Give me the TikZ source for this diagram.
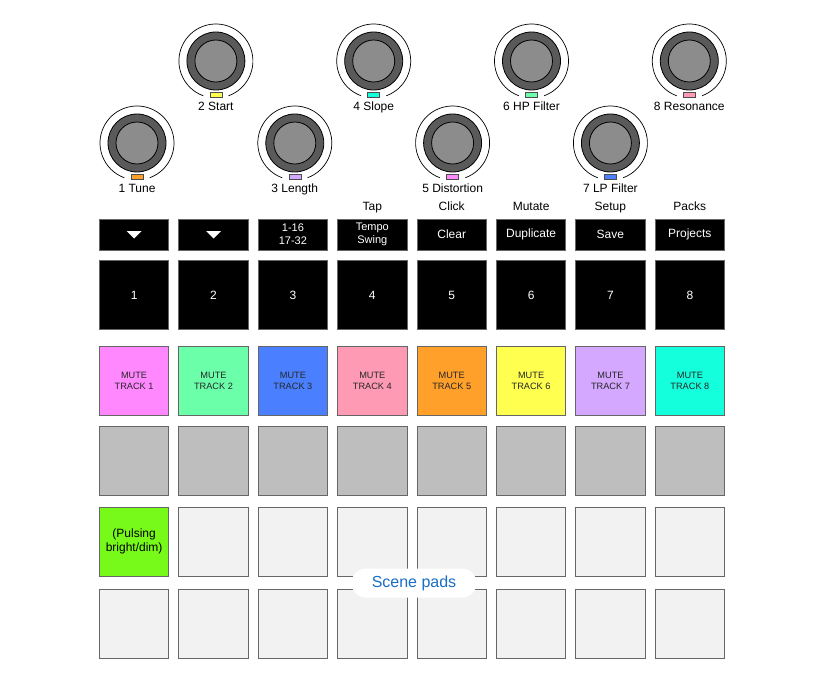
\documentclass[tikz,border=0pt]{standalone}
\usepackage{fontspec}
\setmainfont{Liberation Sans}
\usetikzlibrary{positioning}
\definecolor{ringgray}{HTML}{5A5A5A}
\definecolor{capgray}{HTML}{8C8C8C}
\definecolor{padgray}{HTML}{BEBEBE}
\definecolor{padlight}{HTML}{F2F2F2}
\definecolor{track1}{HTML}{FF88FF}
\definecolor{track2}{HTML}{6BFFAA}
\definecolor{track3}{HTML}{4A80FF}
\definecolor{track4}{HTML}{FF9AB4}
\definecolor{track5}{HTML}{FFA02A}
\definecolor{track6}{HTML}{FFFF50}
\definecolor{track7}{HTML}{D4A8FF}
\definecolor{track8}{HTML}{14FFDC}
\definecolor{pulse}{HTML}{77FA1A}
\definecolor{sceneblue}{HTML}{1A6EC8}
\begin{document}
\begin{tikzpicture}[x=1pt, y=-1pt,
    every node/.style={inner sep=0pt, font=\fontsize{12}{14}\selectfont},
    knob/.style={circle, draw=black, line width=0.8pt, fill=ringgray, minimum size=58pt,
        path picture={\draw[fill=capgray] (path picture bounding box.center) circle[radius=21pt];}},
    led/.style={draw=black!70, line width=0.6pt, minimum width=12pt, minimum height=5pt},
    knoblabel/.style={text height=9pt, text depth=2.5pt},
    fnbtn/.style={fill=black, draw=black!60, line width=0.8pt, minimum width=69.5pt, minimum height=31pt, text=white, align=center},
    pad/.style={draw=black!60, line width=0.8pt, minimum size=69.5pt, align=center},
    mute/.style={pad, text=black!85, font=\fontsize{9.2}{11}\selectfont},
    scene/.style={fill=white, rounded corners=14.5pt, minimum width=125pt, minimum height=29pt, text=sceneblue, font=\fontsize{16}{18}\selectfont}]
    \fill[white] (0,0) rectangle (840,682);
    \useasboundingbox (0,0) rectangle (840,682);

    % knobs
    \foreach \i/\x/\y/\c/\t in {1/137/143/track5/1 Tune, 2/215.9/61/track6/2 Start, 3/294.8/143/track7/3 Length, 4/373.7/61/track8/4 Slope,
        5/452.6/143/track1/5 Distortion, 6/531.5/61/track2/6 HP Filter, 7/610.4/143/track3/7 LP Filter, 8/689.3/61/track4/8 Resonance} {
        \node[knob] (k\i) at (\x,\y) {};
        \node[led, fill=\c, below=2pt of k\i, label={[knoblabel, label distance=3.5pt]below:\t}] (led\i) {};
        \draw[line width=0.7pt] ([shift={(-70:37pt)}]k\i.center) arc[start angle=-70, end angle=250, radius=37pt];
    }

    % function buttons
    \node[fnbtn] (b1) at (134.1,234.5) {};
    \node[fnbtn] (b2) at (213.5,234.5) {};
    \node[fnbtn, font=\fontsize{11}{13}\selectfont] (b3) at (292.9,234.5) {1-16\\17-32};
    \node[fnbtn, font=\fontsize{11}{13}\selectfont] (b4) at (372.3,234.5) {Tempo\\Swing};
    \node[fnbtn] (b5) at (451.7,234.5) {Clear};
    \node[fnbtn] (b6) at (531.1,234.5) {Duplicate};
    \node[fnbtn] (b7) at (610.4,234.5) {Save};
    \node[fnbtn] (b8) at (689.8,234.5) {Projects};
    \fill[white] ([shift={(-7.5pt,3.5pt)}]b1.center) -- ([shift={(7.5pt,3.5pt)}]b1.center) -- ([shift={(0pt,-4pt)}]b1.center) -- cycle;
    \fill[white] ([shift={(-7.5pt,3.5pt)}]b2.center) -- ([shift={(7.5pt,3.5pt)}]b2.center) -- ([shift={(0pt,-4pt)}]b2.center) -- cycle;

    \node[knoblabel, above=5pt of b4] {Tap};
    \node[knoblabel, above=5pt of b5] {Click};
    \node[knoblabel, above=5pt of b6] {Mutate};
    \node[knoblabel, above=5pt of b7] {Setup};
    \node[knoblabel, above=5pt of b8] {Packs};

    % pads
    \foreach \i in {1,...,8} {
        \node[pad, fill=black, text=white] (n\i) at (134.1+79.4*\i-79.4,295) {\i};
        \node[mute, fill=track\i] (m\i) at (134.1+79.4*\i-79.4,381) {MUTE\\TRACK \i};
        \node[pad, fill=padgray] (g\i) at (134.1+79.4*\i-79.4,461) {};
        \node[pad, fill=padlight] (r\i) at (134.1+79.4*\i-79.4,541.7) {};
        \node[pad, fill=padlight] (s\i) at (134.1+79.4*\i-79.4,624) {};
    }
    \node[pad, fill=pulse] (r1) at (134.1,541.7) {(Pulsing\\bright/dim)};

    \node[scene] (scenepads) at (414,583) {Scene pads};
\end{tikzpicture}
\end{document}
